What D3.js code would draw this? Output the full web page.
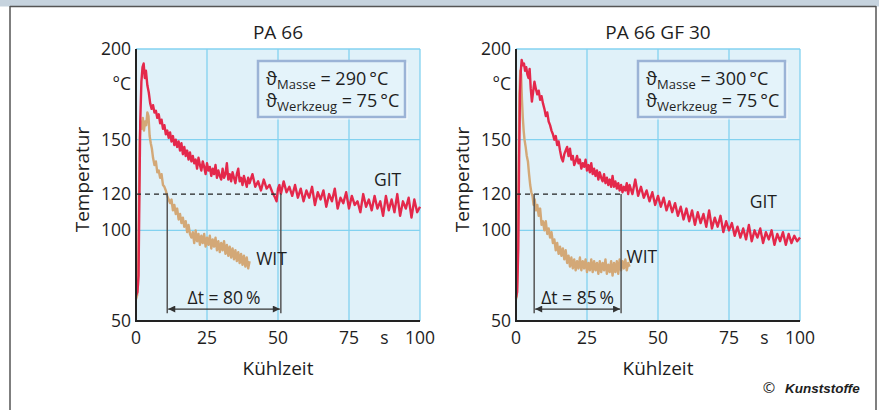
<!DOCTYPE html>
<html lang="de">
<head>
<meta charset="UTF-8">
<title>Kühlzeit GIT / WIT</title>
<script src="https://d3js.org/d3.v7.min.js"></script>
<style>
  body { margin: 0; background: #fff; font-family: 'Open Sans', sans-serif; }
  svg text { fill: #1e1e1e; }
</style>
</head>
<body>
<div id="chart"></div>
<script>
    // Temperature curves [Kühlzeit s, Temperatur °C]
    const gitA = [[0,64],[0.5,66],[0.9,75],[1.2,120],[1.5,160],[1.9,182],[2.3,190],[2.7,192],[3.1,184],[3.5,188],[4.0,180],[4.5,176],[5.0,170],[5.5,167],[6.0,169],[6.5,165],[7.0,166],[7.5,162],[8.0,164],[8.5,159],[9.0,161],[9.5,156],[10,158],[10.5,153],[11,155],[11.5,151],[12,154],[12.5,149],[13,152],[13.5,147],[14,150],[14.5,146],[15,149],[15.5,144],[16,148],[16.5,142],[17,146],[17.5,141],[18,144],[18.5,139],[19,143],[19.5,138],[20,141],[20.5,137],[21,139],[21.5,134],[22,140],[22.5,136],[23,133],[23.5,138],[24,135],[24.5,131],[25,137],[25.5,133],[26,135],[26.5,130],[27,134],[27.5,131],[28,136],[28.5,129],[29,133],[29.5,130],[30,128],[30.5,134],[31,129],[31.5,131],[32,137],[32.5,128],[33,131],[33.5,127],[34,132],[34.5,129],[35,126],[35.5,131],[36,134],[36.5,127],[37,129],[37.5,125],[38,130],[38.5,127],[39,124],[39.5,129],[40,126],[41,131],[42,124],[43,127],[44,122],[45,128],[46,123],[47,125],[48,121],[49,118],[49.5,116],[50,123],[50.5,125],[51,120],[52,127],[53,121],[54,124],[55,119],[56,125],[57,118],[58,123],[59,116],[60,122],[61,118],[62,124],[63,114],[64,121],[65,117],[66,122],[67,113],[68,120],[69,116],[70,123],[71,112],[72,118],[73,115],[74,121],[75,112],[76,119],[77,114],[78,116],[79,110],[80,120],[81,113],[82,117],[83,111],[84,119],[85,112],[86,116],[87,108],[88,119],[89,111],[90,117],[91,110],[92,120],[93,108],[94,116],[95,112],[96,118],[97,107],[98,117],[99,110],[100,113]];
    const witA = [[0,62],[0.4,64],[0.7,70],[1.0,110],[1.3,150],[1.6,160],[2.0,156],[2.4,162],[2.8,155],[3.2,160],[3.6,158],[4.0,165],[4.4,163],[4.8,152],[5.2,148],[5.6,145],[6.0,140],[6.5,136],[7.0,138],[7.5,132],[8.0,133],[8.5,129],[9.0,131],[9.5,125],[10,124],[10.5,122],[11,119],[11.5,117],[12,115],[12.5,117],[13,111],[13.5,114],[14,109],[14.5,112],[15,106],[15.5,109],[16,104],[16.5,107],[17,102],[17.5,105],[18,99],[18.5,103],[19,98],[19.5,96],[20,99],[20.5,93],[21,100],[21.5,94],[22,98],[22.5,92],[23,97],[23.5,93],[24,98],[24.5,91],[25,96],[25.5,92],[26,97],[26.5,90],[27,95],[27.5,91],[28,96],[28.5,89],[29,94],[29.5,88],[30,93],[30.5,89],[31,94],[31.5,87],[32,92],[32.5,86],[33,91],[33.5,85],[34,90],[34.5,84],[35,89],[35.5,83],[36,88],[36.5,82],[37,87],[37.5,81],[38,86],[38.5,80],[39,85],[39.5,79],[40,83]];
    const gitB = [[0,63],[0.4,66],[0.8,90],[1.1,140],[1.4,175],[1.7,188],[2.0,194],[2.4,191],[2.8,192],[3.2,188],[3.6,190],[4.0,186],[4.4,184],[4.8,189],[5.2,178],[5.6,171],[6.0,176],[6.5,182],[7.0,178],[7.5,175],[8.0,177],[8.5,172],[9.0,174],[9.5,170],[10,167],[10.5,163],[11,165],[11.5,160],[12,158],[12.5,155],[13,153],[13.5,150],[14,152],[14.5,147],[15,149],[15.5,144],[16,140],[16.5,138],[17,142],[17.5,144],[18,146],[18.5,141],[19,145],[19.5,139],[20,141],[20.5,136],[21,138],[21.5,141],[22,137],[22.5,139],[23,134],[23.5,137],[24,135],[24.5,139],[25,133],[25.5,136],[26,132],[26.5,137],[27,131],[27.5,134],[28,130],[28.5,133],[29,128],[29.5,132],[30,129],[30.5,127],[31,131],[31.5,126],[32,129],[32.5,125],[33,128],[33.5,124],[34,130],[34.5,124],[35,127],[35.5,123],[36,126],[36.5,122],[37,125],[37.5,121],[38,124],[38.5,122],[39,126],[39.5,120],[40,125],[41,120],[42,128],[43,119],[44,124],[45,118],[46,122],[47,116],[48,121],[49,114],[50,119],[51,113],[52,118],[53,111],[54,116],[55,110],[56,115],[57,108],[58,113],[59,106],[60,112],[61,105],[62,111],[63,103],[64,110],[65,104],[66,109],[67,102],[68,111],[69,101],[70,107],[71,102],[72,108],[73,99],[74,105],[75,100],[76,104],[77,97],[78,102],[79,96],[80,101],[81,95],[82,103],[83,94],[84,100],[85,96],[86,101],[87,93],[88,99],[89,95],[90,100],[91,92],[92,98],[93,94],[94,99],[95,92],[96,98],[97,93],[98,97],[99,94],[100,96]];
    const witB = [[0,62],[0.3,64],[0.6,80],[0.9,130],[1.2,175],[1.5,188],[1.8,186],[2.1,172],[2.4,162],[2.7,155],[3.0,150],[3.4,146],[3.8,141],[4.2,138],[4.6,131],[5.0,125],[5.4,121],[5.8,119],[6.2,114],[6.6,117],[7.0,111],[7.5,114],[8.0,108],[8.5,112],[9.0,103],[9.5,105],[10,100],[10.5,105],[11,98],[11.5,101],[12,96],[12.5,99],[13,93],[13.5,95],[14,89],[14.5,93],[15,87],[15.5,91],[16,86],[16.5,90],[17,84],[17.5,89],[18,82],[18.5,86],[19,80],[19.5,85],[20,79],[20.5,84],[21,78],[21.5,83],[22,79],[22.5,85],[23,78],[23.5,83],[24,79],[24.5,84],[25,77],[25.5,82],[26,78],[26.5,84],[27,77],[27.5,83],[28,78],[28.5,82],[29,76],[29.5,83],[30,77],[30.5,82],[31,78],[31.5,84],[32,76],[32.5,81],[33,77],[33.5,83],[34,75],[34.5,82],[35,77],[35.5,83],[36,76],[36.5,84],[37,78],[37.5,83],[38,79],[38.5,84],[39,78],[39.5,82],[40,80]];

    // times where WIT and GIT cross 120 °C
    const crossA = [11, 51];
    const crossB = [6.4, 37];
    const crossTemp = 120;

    const titles = ["PA 66", "PA 66 GF 30"];
    const masseTemps = ["290", "300"];
    const toolTemps = ["75", "75"];
    const deltaLabels = ["\u0394t = 80\u2009%", "\u0394t = 85\u2009%"];

    const yTicks = [50, 100, 120, 150, 200];
    const xTicks = [0, 25, 50, 75, 100];
    const yGrid = [100, 150, 200];
    const xGrid = [25, 50, 75, 100];

    const W = 879, H = 410;
    const red = "#e4284b", tan = "#d3a877";

    const svg = d3.select("#chart").append("svg")
        .attr("width", W).attr("height", H);

    // outer frame
    svg.append("rect").attr("x", 0).attr("y", 0).attr("width", W).attr("height", 6.5).attr("fill", "#c6d3de");
    svg.append("line").attr("x1", 10).attr("x2", 876).attr("y1", 6.5).attr("y2", 6.5).attr("stroke", "#555").attr("stroke-width", 1.5);
    svg.append("line").attr("x1", 10).attr("x2", 10).attr("y1", 6).attr("y2", H).attr("stroke", "#555").attr("stroke-width", 1.5);
    svg.append("line").attr("x1", 876).attr("x2", 876).attr("y1", 6).attr("y2", H).attr("stroke", "#555").attr("stroke-width", 1.5);

    const defs = svg.append("defs");
    defs.append("marker").attr("id", "arr").attr("viewBox", "0 0 10 10")
        .attr("refX", 10).attr("refY", 5).attr("markerWidth", 9).attr("markerHeight", 7)
        .attr("markerUnits", "userSpaceOnUse").attr("orient", "auto-start-reverse")
        .append("path").attr("d", "M0,0 L10,5 L0,10 Z").attr("fill", "#333");

    const panels = [
        { left: 136, git: gitA, wit: witA, cross: crossA, gitLabel: [83.8, 128], witLabel: [42.3, 84] },
        { left: 516, git: gitB, wit: witB, cross: crossB, gitLabel: [82.3, 115.5], witLabel: [38.9, 85.5] }
    ];

    panels.forEach((p, i) => {
        const x = d3.scaleLinear().domain([0, 100]).range([p.left, p.left + 284]);
        const y = d3.scaleLinear().domain([50, 200]).range([321, 49]);
        const g = svg.append("g");

        // plot background
        g.append("rect").attr("x", x(0)).attr("y", y(200))
            .attr("width", x(100) - x(0)).attr("height", y(50) - y(200))
            .attr("fill", "#e0f1f9");

        // grid
        g.selectAll(".vg").data(xGrid).join("line")
            .attr("x1", d => x(d)).attr("x2", d => x(d))
            .attr("y1", y(50)).attr("y2", y(200))
            .attr("stroke", "#83d2f0").attr("stroke-width", 1.3);
        g.selectAll(".hg").data(yGrid).join("line")
            .attr("x1", x(0)).attr("x2", x(100))
            .attr("y1", d => y(d)).attr("y2", d => y(d))
            .attr("stroke", "#83d2f0").attr("stroke-width", 1.3);

        // legend box
        const lb = g.append("g").attr("transform", `translate(${p.left + 122},61)`);
        lb.append("rect").attr("x", 1.5).attr("y", 1.5).attr("width", 148).attr("height", 57)
            .attr("fill", "#fff").attr("opacity", 0.7);
        lb.append("rect").attr("x", 0).attr("y", 0).attr("width", 147).attr("height", 56)
            .attr("fill", "#e4f3fa").attr("stroke", "#9bb3d6").attr("stroke-width", 2.5);
        const l1 = lb.append("text").attr("x", 8).attr("y", 24).attr("font-size", 18);
        l1.append("tspan").text("\u03d1");
        l1.append("tspan").attr("font-size", 13).attr("dy", 4).text("Masse");
        l1.append("tspan").attr("dy", -4).text(` = ${masseTemps[i]}\u2009°C`);
        const l2 = lb.append("text").attr("x", 8).attr("y", 46).attr("font-size", 18);
        l2.append("tspan").text("\u03d1");
        l2.append("tspan").attr("font-size", 13).attr("dy", 4).text("Werkzeug");
        l2.append("tspan").attr("dy", -4).text(` = ${toolTemps[i]}\u2009°C`);

        // curves
        const line = d3.line().x(d => x(d[0])).y(d => y(d[1]));
        g.append("path").datum(p.wit).attr("d", line)
            .attr("fill", "none").attr("stroke", tan).attr("stroke-width", 2.4).attr("stroke-linejoin", "round");
        g.append("path").datum(p.git).attr("d", line)
            .attr("fill", "none").attr("stroke", red).attr("stroke-width", 2.4).attr("stroke-linejoin", "round");

        // 120 °C markers and delta t
        g.append("line").attr("x1", x(0)).attr("x2", x(p.cross[1]))
            .attr("y1", y(crossTemp)).attr("y2", y(crossTemp))
            .attr("stroke", "#222").attr("stroke-width", 1.3).attr("stroke-dasharray", "5,4");
        g.selectAll(".vl").data(p.cross).join("line")
            .attr("x1", d => x(d)).attr("x2", d => x(d))
            .attr("y1", y(crossTemp)).attr("y2", y(54.3))
            .attr("stroke", "#555").attr("stroke-width", 1.5);
        g.append("line").attr("x1", x(p.cross[0]) + 1).attr("x2", x(p.cross[1]) - 1)
            .attr("y1", y(56.6)).attr("y2", y(56.6))
            .attr("stroke", "#333").attr("stroke-width", 1.3)
            .attr("marker-start", "url(#arr)").attr("marker-end", "url(#arr)");
        g.append("text").attr("x", x((p.cross[0] + p.cross[1]) / 2)).attr("y", y(63))
            .attr("dy", "0.35em").attr("text-anchor", "middle").attr("font-size", 17.5)
            .text(deltaLabels[i]);

        // curve labels
        g.append("text").attr("x", x(p.gitLabel[0])).attr("y", y(p.gitLabel[1])).attr("dy", "0.35em")
            .attr("font-size", 17.5).text("GIT");
        g.append("text").attr("x", x(p.witLabel[0])).attr("y", y(p.witLabel[1])).attr("dy", "0.35em")
            .attr("font-size", 17.5).text("WIT");

        // axes
        g.append("line").attr("x1", x(0)).attr("x2", x(0)).attr("y1", y(200)).attr("y2", y(50))
            .attr("stroke", "#222").attr("stroke-width", 2);
        g.append("line").attr("x1", x(0) - 1).attr("x2", x(100)).attr("y1", y(50)).attr("y2", y(50))
            .attr("stroke", "#222").attr("stroke-width", 2);

        g.selectAll(".yt").data(yTicks).join("text")
            .attr("x", x(0) - 5).attr("y", d => y(d)).attr("dy", "0.35em")
            .attr("text-anchor", "end").attr("font-size", 17.5).text(d => d);
        g.append("text").attr("x", x(0) - 5).attr("y", y(181)).attr("dy", "0.35em")
            .attr("text-anchor", "end").attr("font-size", 17.5).text("°C");
        g.selectAll(".xt").data(xTicks).join("text")
            .attr("x", d => x(d)).attr("y", 338).attr("dy", "0.35em")
            .attr("text-anchor", "middle").attr("font-size", 17.5).text(d => d);
        g.append("text").attr("x", x(87.5)).attr("y", 338).attr("dy", "0.35em")
            .attr("text-anchor", "middle").attr("font-size", 17.5).text("s");

        // titles
        g.append("text").attr("x", x(50)).attr("y", 32).attr("dy", "0.35em")
            .attr("text-anchor", "middle").attr("font-size", 19).text(titles[i]);
        g.append("text").attr("x", x(50)).attr("y", 368).attr("dy", "0.35em")
            .attr("text-anchor", "middle").attr("font-size", 19).text("Kühlzeit");
        g.append("text").attr("transform", `translate(${p.left - 54},${y(128)}) rotate(-90)`)
            .attr("dy", "0.35em").attr("text-anchor", "middle").attr("font-size", 19).text("Temperatur");
    });

    // source
    svg.append("text").attr("x", 769).attr("y", 388).attr("dy", "0.35em")
        .attr("text-anchor", "middle").attr("font-size", 15).text("©");
    svg.append("text").attr("x", 785).attr("y", 388).attr("dy", "0.35em")
        .attr("font-size", 13.5).attr("font-weight", "bold").attr("font-style", "italic")
        .attr("font-family", "'Liberation Sans', sans-serif").text("Kunststoffe");
</script>
</body>
</html>
